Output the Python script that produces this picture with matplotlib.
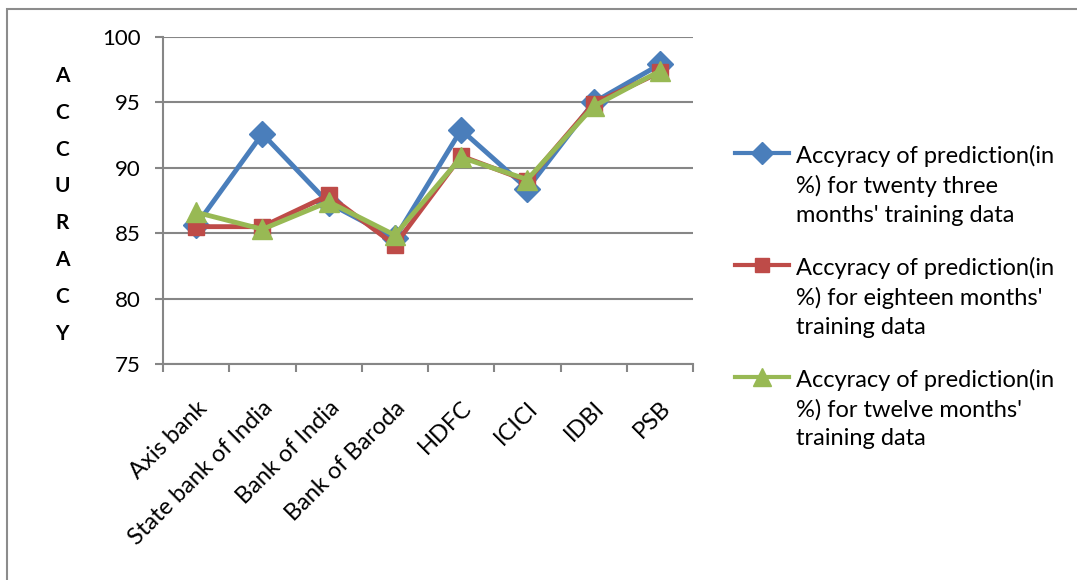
import matplotlib.pyplot as plt
from matplotlib.lines import Line2D
from matplotlib.patches import Rectangle

banks = ["Axis bank", "State bank of India", "Bank of India", "Bank of Baroda",
         "HDFC", "ICICI", "IDBI", "PSB"]
acc_23 = [85.6, 92.6, 87.3, 84.6, 92.9, 88.4, 95.0, 97.9]
acc_18 = [85.5, 85.5, 87.9, 84.1, 90.9, 89.0, 94.9, 97.3]
acc_12 = [86.6, 85.3, 87.4, 84.85, 90.8, 89.1, 94.7, 97.4]
labels = ["Accyracy of prediction(in\n%) for twenty three\nmonths' training data",
          "Accyracy of prediction(in\n%) for eighteen months'\ntraining data",
          "Accyracy of prediction(in\n%) for twelve months'\ntraining data"]
y_ticks = [75, 80, 85, 90, 95, 100]

plt.rcParams['font.family'] = ['Lato', 'DejaVu Sans']

W, H = 1077, 580
fig = plt.figure(figsize=(W / 100, H / 100), dpi=100)
ax = fig.add_axes([163 / W, 1 - 364 / H, 530 / W, 327 / H])

series = [
    (acc_23, '#4A7EBB', 'D', 13),
    (acc_18, '#BE4B48', 's', 12),
    (acc_12, '#98B954', '^', 15),
]
x = list(range(len(banks)))
for vals, col, mk, ms in series:
    ax.plot(x, vals, color=col, lw=3.5, marker=mk, ms=ms, zorder=3)

ax.set_xlim(-0.5, len(banks) - 0.5)
ax.set_ylim(75, 100)
ax.set_yticks(y_ticks)
ax.set_yticklabels([str(v) for v in y_ticks], fontsize=16)
ax.yaxis.grid(True, color='#868686', lw=1.5)
ax.set_axisbelow(True)
for s in ['top', 'right']:
    ax.spines[s].set_visible(False)
for s in ['left', 'bottom']:
    ax.spines[s].set_color('#868686')
    ax.spines[s].set_linewidth(1.5)
ax.tick_params(axis='y', length=6, color='#868686', width=1.5, pad=10)

# x ticks at category boundaries, labels at centres
ax.set_xticks([i - 0.5 for i in range(len(banks) + 1)])
ax.set_xticklabels([])
ax.tick_params(axis='x', length=6, color='#868686', width=1.5)
ax.set_xticks(x, minor=True)
ax.set_xticklabels(banks, minor=True, rotation=45, ha='right', va='top',
                   rotation_mode='anchor', fontsize=17)
ax.tick_params(axis='x', which='minor', length=0, pad=24)

# stacked y label
for i, ch in enumerate("ACCURACY"):
    fig.text(62 / W, 1 - (76 + i * 36.8) / H, ch, ha='center', va='center',
             fontsize=15, fontweight='bold')

# legend
for k, (vals, col, mk, ms) in enumerate(series):
    yc = 1 - (153 + k * 112) / H
    fig.add_artist(Line2D([735 / W, 789 / W], [yc, yc], color=col, lw=3))
    fig.add_artist(Line2D([762 / W], [yc], color=col, marker=mk, ms=ms - 2))
    fig.text(796 / W, yc + 8 / H, labels[k], ha='left', va='top',
             fontsize=17, linespacing=1.45)

fig.add_artist(Rectangle((7 / W, -0.02), 1.05, 1 - 9 / H + 0.02, fill=False,
                         edgecolor='#8C8C8C', lw=1.5, transform=fig.transFigure))

fig.savefig("out.png", dpi=100)
